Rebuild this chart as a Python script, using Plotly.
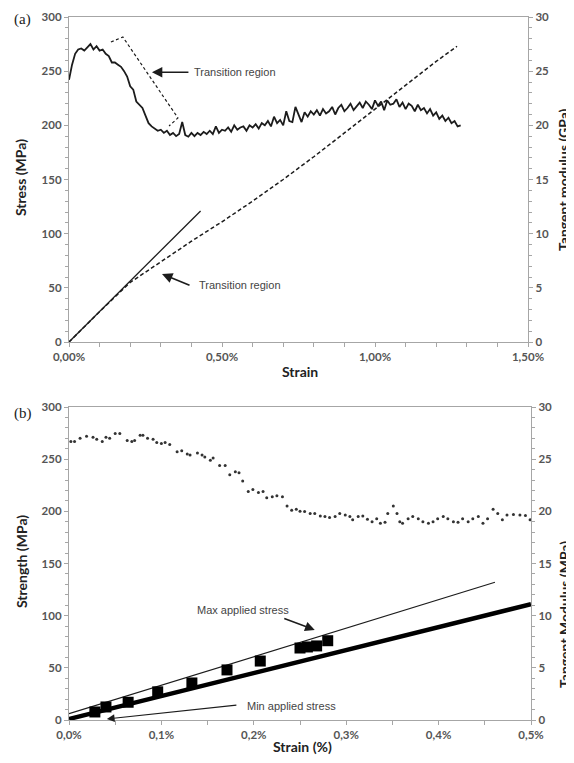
import plotly.graph_objects as go

# ---------------- DATA ----------------
# Panel (a): tangent modulus (GPa) vs strain (%)
top_strain = [i / 100 for i in range(129)]
top_modulus = [24.2, 25.6, 26.6, 27.0, 27.1, 26.9, 27.2, 27.5, 27.0, 27.3,
               26.9, 27.0, 26.6, 26.4, 25.8, 25.8, 25.6, 25.4, 25.0, 24.5,
               23.6, 23.3, 22.2, 21.9, 21.6, 20.9, 20.2, 19.9, 19.7, 19.5,
               19.6, 19.3, 19.5, 19.1, 19.3, 19.0, 19.2, 20.3, 19.1, 18.95,
               19.3, 19.0, 19.3, 19.1, 19.4, 19.2, 19.5, 19.2, 19.9, 19.3,
               19.6, 19.5, 19.8, 19.4, 20.0, 19.6, 19.8, 19.9, 19.5, 20.0,
               19.8, 20.1, 19.7, 20.2, 20.0, 20.4, 19.9, 20.8, 20.2, 20.5,
               20.0, 21.3, 20.4, 20.3, 21.7, 20.9, 20.3, 21.2, 20.8, 21.3,
               21.0, 21.4, 20.9, 21.5, 21.1, 21.3, 21.7, 21.0, 21.6, 21.9,
               21.3, 21.6, 22.0, 21.4, 21.8, 22.1, 21.6, 22.2, 21.9, 21.5,
               22.3, 21.8, 22.2, 21.4, 22.3, 21.9, 22.0, 22.4, 21.7, 22.1,
               21.5, 22.0, 21.8, 21.3, 21.9, 21.4, 21.6, 21.1, 21.5, 20.9,
               21.2, 20.6, 20.9, 20.4, 20.7, 20.2, 20.4, 19.9, 20.0]
# Panel (a): stress-strain curve (MPa)
curve_strain = [0, 0.1, 0.2, 0.3, 0.4, 0.5, 0.6, 0.7, 0.8, 0.9, 1.0, 1.1, 1.2, 1.268]
curve_stress = [0, 28, 55, 74, 93, 111, 130, 150, 171, 193, 215, 237, 259, 273]
# Panel (a): initial linear fit
fit_strain = [0, 0.43]
fit_stress = [0, 121]
# Panel (a): dashed transition-region outline
box_strain = [0.137, 0.176, 0.356, 0.327]
box_stress = [276.9, 281.5, 206.8, 199.4]

# Panel (b): tangent modulus points
bot_strain = [0.002, 0.006, 0.012, 0.019, 0.026, 0.030, 0.036, 0.040, 0.044, 0.050,
              0.055, 0.063, 0.068, 0.071, 0.077, 0.080, 0.085, 0.091, 0.095, 0.100,
              0.104, 0.109, 0.117, 0.122, 0.128, 0.131, 0.139, 0.144, 0.147, 0.153,
              0.156, 0.163, 0.169, 0.174, 0.180, 0.184, 0.188, 0.194, 0.199, 0.205,
              0.210, 0.214, 0.220, 0.225, 0.231, 0.236, 0.241, 0.246, 0.250, 0.255,
              0.261, 0.266, 0.272, 0.277, 0.282, 0.288, 0.293, 0.299, 0.304, 0.307,
              0.313, 0.318, 0.323, 0.328, 0.333, 0.337, 0.342, 0.345, 0.351, 0.355,
              0.358, 0.361, 0.367, 0.372, 0.378, 0.383, 0.389, 0.394, 0.399, 0.405,
              0.410, 0.416, 0.421, 0.426, 0.432, 0.437, 0.443, 0.448, 0.453, 0.459,
              0.464, 0.469, 0.474, 0.481, 0.488, 0.494, 0.499]
bot_modulus = [26.7, 26.7, 27.0, 27.2, 27.1, 26.9, 26.7, 27.1, 27.0, 27.45,
               27.45, 26.8, 26.7, 26.8, 27.3, 27.3, 27.0, 26.9, 26.6, 26.5,
               26.6, 26.4, 25.7, 25.8, 25.5, 25.4, 25.6, 25.4, 25.2, 24.9,
               25.1, 24.4, 24.4, 23.5, 23.8, 23.7, 22.9, 21.9, 22.1, 21.8,
               21.9, 21.3, 21.4, 21.5, 21.4, 20.5, 20.1, 20.2, 20.0, 19.98,
               19.8, 19.8, 19.55, 19.5, 19.4, 19.5, 19.8, 19.65, 19.5, 19.2,
               19.5, 19.55, 19.25, 19.0, 19.3, 18.85, 18.95, 19.8, 20.5, 19.8,
               19.0, 18.85, 19.3, 19.5, 19.3, 19.0, 18.85, 19.0, 19.3, 19.5,
               19.3, 19.0, 18.95, 19.3, 19.0, 19.3, 19.5, 18.85, 19.3, 20.2,
               19.8, 19.2, 19.65, 19.7, 19.65, 19.6, 19.2]
# Panel (b): stress-strain band, max applied stress line, applied stress squares
band_strain = [0, 0.5]
band_stress = [1, 111]
max_strain = [0, 0.461]
max_stress = [6, 132]
sq_strain = [0.028, 0.040, 0.064, 0.096, 0.133, 0.171, 0.207, 0.250, 0.258, 0.268, 0.280]
sq_stress = [7.7, 12.5, 17, 27, 35.5, 48, 56.5, 69, 70, 71, 76]

top_xticks = [round(i * 0.1, 1) for i in range(16)]
top_xlabels = ['0,00%' if v == 0 else '0,50%' if v == 0.5 else '1,00%' if v == 1.0
               else '1,50%' if v == 1.5 else '' for v in top_xticks]
bot_xticks = [round(i * 0.05, 2) for i in range(11)]
bot_xlabels = ['0,0%', '', '0,1%', '', '0,2%', '', '0,3%', '', '0,4%', '', '0,5%']

# ---------------- FIGURE ----------------
# the page body has an 8px margin on every side, so the figure is sized to fit inside it
OFF = 8
W, H = 574 - 2 * OFF, 763 - 2 * OFF
def px(x): return (x - OFF) / W
def py(y): return 1 - (y - OFF) / H

INK = '#1c1c1c'
AX = '#a6a6a6'
TICKF = dict(family='Lato', size=11.5, color='#555555', weight='bold')

fig = go.Figure()
# Panel (a)
fig.add_trace(go.Scatter(x=curve_strain, y=curve_stress, mode='lines',
                         line=dict(color=INK, width=1.5, dash='4px,2.5px'),
                         xaxis='x', yaxis='y', showlegend=False))
fig.add_trace(go.Scatter(x=fit_strain, y=fit_stress, mode='lines',
                         line=dict(color=INK, width=1.3),
                         xaxis='x', yaxis='y', showlegend=False))
fig.add_trace(go.Scatter(x=box_strain, y=box_stress, mode='lines',
                         line=dict(color=INK, width=1.2, dash='3px,2.5px'),
                         xaxis='x', yaxis='y', showlegend=False))
fig.add_trace(go.Scatter(x=top_strain, y=top_modulus, mode='lines',
                         line=dict(color=INK, width=1.8),
                         xaxis='x', yaxis='y2', showlegend=False))
# Panel (b)
fig.add_trace(go.Scatter(x=max_strain, y=max_stress, mode='lines',
                         line=dict(color=INK, width=1.2),
                         xaxis='x2', yaxis='y3', showlegend=False))
fig.add_trace(go.Scatter(x=band_strain, y=band_stress, mode='lines',
                         line=dict(color='#000000', width=4.5),
                         xaxis='x2', yaxis='y3', showlegend=False))
fig.add_trace(go.Scatter(x=sq_strain, y=sq_stress, mode='markers',
                         marker=dict(symbol='square', size=11, color='#000000'),
                         xaxis='x2', yaxis='y3', showlegend=False))
fig.add_trace(go.Scatter(x=bot_strain, y=bot_modulus, mode='markers',
                         marker=dict(symbol='circle', size=3, color='#333333'),
                         xaxis='x2', yaxis='y4', showlegend=False))

common_x = dict(showgrid=False, zeroline=False, showline=True, linecolor=AX, linewidth=1.2,
                mirror=True, ticks='outside', ticklen=4, tickcolor=AX, tickfont=TICKF,
                tickmode='array', automargin=False)
common_y = dict(showgrid=False, zeroline=False, showline=True, linecolor=AX, linewidth=1.2,
                ticks='outside', ticklen=4, tickcolor=AX, tickfont=TICKF, automargin=False,
                dtick=50, minor=dict(dtick=10, ticks='outside', ticklen=3, tickcolor=AX))
common_y2 = dict(showgrid=False, zeroline=False, showline=True, linecolor=AX, linewidth=1.2,
                 ticks='outside', ticklen=4, tickcolor=AX, tickfont=TICKF, side='right',
                 range=[0, 30], dtick=5, automargin=False,
                 minor=dict(dtick=1, ticks='outside', ticklen=3, tickcolor=AX))

fig.update_layout(
    width=W, height=H, margin=dict(l=0, r=0, t=0, b=0, autoexpand=False),
    paper_bgcolor='white', plot_bgcolor='white',
    xaxis=dict(common_x, domain=[px(69), px(528)], anchor='y', range=[0, 1.5],
               tickvals=top_xticks, ticktext=top_xlabels),
    yaxis=dict(common_y, domain=[py(342), py(17)], anchor='x', range=[0, 300]),
    yaxis2=dict(common_y2, overlaying='y', anchor='x'),
    xaxis2=dict(common_x, domain=[px(69), px(531)], anchor='y3', range=[0, 0.5],
                tickvals=bot_xticks, ticktext=bot_xlabels),
    yaxis3=dict(common_y, domain=[py(720), py(407)], anchor='x2', range=[0, 300]),
    yaxis4=dict(common_y2, overlaying='y3', anchor='x2'),
)

TITLEF = dict(family='Lato', size=14, color='#222222', weight='bold')
NOTEF = dict(family='Liberation Sans', size=11, color='#444444')
PANF = dict(family='Liberation Serif', size=15, color='#222222')

ann = []
# axis titles (the right-hand titles run off the page edge, as in the original)
ann.append(dict(text='Stress (MPa)', x=px(21), y=py(178), textangle=-90, font=TITLEF))
ann.append(dict(text='Tangent modulus (GPa)', x=px(564), y=py(180), textangle=-90,
                font=TITLEF))
ann.append(dict(text='Strain', x=px(300), y=py(371), font=TITLEF))
ann.append(dict(text='Strength (MPa)', x=px(21), y=py(562), textangle=-90, font=TITLEF))
ann.append(dict(text='Tangent Modulus (MPa)', x=px(564), y=py(615), textangle=-90,
                font=TITLEF))
ann.append(dict(text='Strain (%)', x=px(302), y=py(746), font=TITLEF))
for a in ann:
    a.update(xref='paper', yref='paper', showarrow=False)
    a.setdefault('xanchor', 'center')
    a.setdefault('yanchor', 'middle')
# panel labels
ann.append(dict(text='(a)', x=px(12), y=py(20), xref='paper', yref='paper',
                showarrow=False, xanchor='left', yanchor='middle', font=PANF))
ann.append(dict(text='(b)', x=px(12), y=py(413), xref='paper', yref='paper',
                showarrow=False, xanchor='left', yanchor='middle', font=PANF))
# notes and arrows, panel (a)
ann.append(dict(text='', x=0.271, y=249, xref='x', yref='y', ax=38, ay=0,
                showarrow=True, arrowhead=2, arrowsize=1.3, arrowwidth=1.6, arrowcolor=INK))
ann.append(dict(text='Transition region', x=0.402, y=249, xref='x', yref='y',
                showarrow=False, xanchor='left', yanchor='middle', font=NOTEF))
ann.append(dict(text='', x=0.304, y=62.8, xref='x', yref='y', ax=29, ay=12,
                showarrow=True, arrowhead=2, arrowsize=1.3, arrowwidth=1.6, arrowcolor=INK))
ann.append(dict(text='Transition region', x=0.418, y=52.6, xref='x', yref='y',
                showarrow=False, xanchor='left', yanchor='middle', font=NOTEF))
# notes and arrows, panel (b)
ann.append(dict(text='', x=0.266, y=86.3, xref='x2', yref='y3', ax=-32, ay=-12,
                showarrow=True, arrowhead=2, arrowsize=1.3, arrowwidth=1.5, arrowcolor=INK))
ann.append(dict(text='Max applied stress', x=0.136, y=105.4, xref='x2', yref='y3',
                showarrow=False, xanchor='left', yanchor='middle', font=NOTEF))
ann.append(dict(text='', x=0.041, y=1.0, xref='x2', yref='y3', ax=131, ay=-14,
                showarrow=True, arrowhead=2, arrowsize=1.4, arrowwidth=1.1, arrowcolor=INK))
ann.append(dict(text='Min applied stress', x=0.190, y=13.4, xref='x2', yref='y3',
                showarrow=False, xanchor='left', yanchor='middle', font=NOTEF))

fig.update_layout(annotations=ann)
fig.write_html('out.html')
